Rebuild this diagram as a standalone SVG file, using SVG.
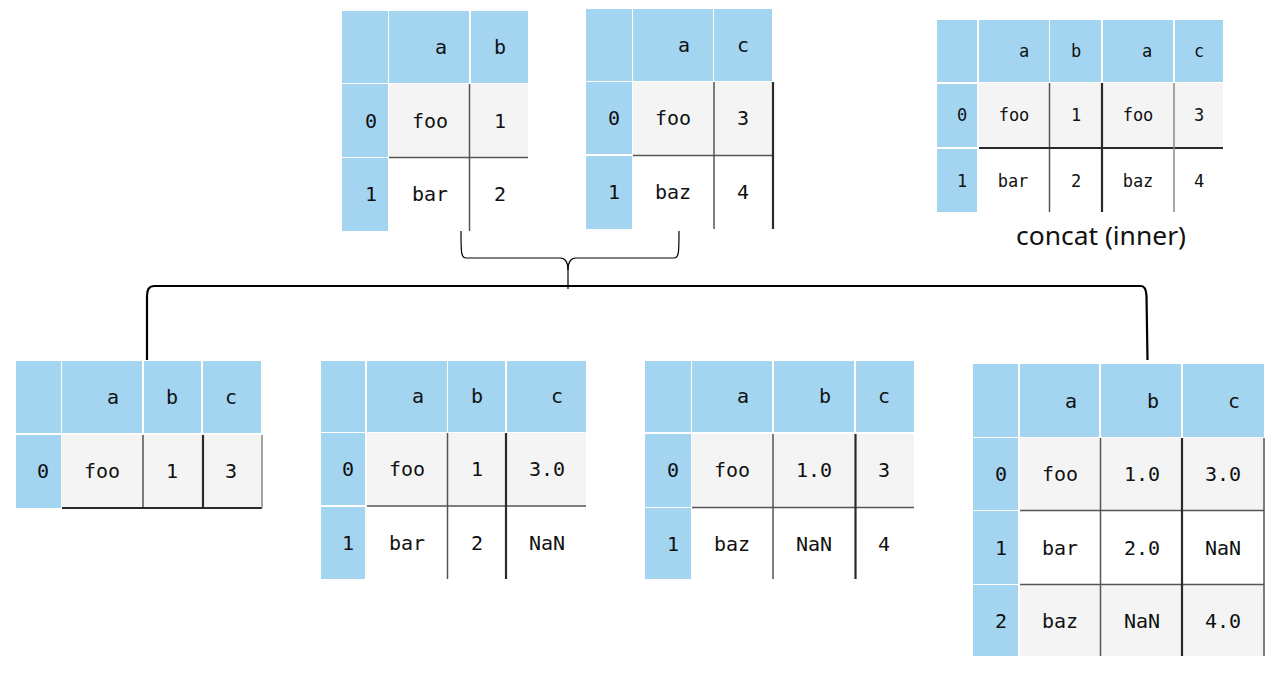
<svg xmlns="http://www.w3.org/2000/svg" width="1279" height="681" viewBox="0 0 1279 681">
<style>
.h{fill:#a3d5f1}
.g{fill:#f4f4f4}
.t{font-family:"DejaVu Sans Mono","Liberation Mono",monospace;font-size:20px;fill:#111;text-anchor:middle}
.s{font-size:17px}
.l1{stroke:#555;stroke-width:1.5;fill:none}
.l2{stroke:#2a2a2a;stroke-width:2.2;fill:none}
.l3{stroke:#888;stroke-width:1.5;fill:none}
.c{stroke:#000;fill:none}
.cap{font-family:"Noto Sans","Open Sans",sans-serif;font-size:25px;fill:#111}
</style>
<rect width="1279" height="681" fill="#fff"/>

<g id="connectors">
<path class="c" stroke-width="1.2" d="M461,231 C461,252 461,258 466,258 L560,258 C566,258 568,262 568,270 L568,289"/>
<path class="c" stroke-width="1.2" d="M679,231 C679,252 679,258 674,258 L576,258 C570,258 568,262 568,270"/>
<path class="c" stroke-width="2.2" d="M147,360 L147,296 Q147,286 154,286 L1141,286 Q1146,286 1146.5,296 L1147.5,360"/>
</g>

<g id="table1">
<rect class="h" x="342" y="11" width="46" height="72"/>
<rect class="h" x="389" y="11" width="80" height="72"/>
<rect class="h" x="471" y="11" width="57" height="72"/>
<rect class="h" x="342" y="84" width="46" height="73"/>
<rect class="h" x="342" y="158" width="46" height="73"/>
<rect class="g" x="389" y="84" width="139" height="73"/>
<path class="l1" d="M469.5,84 V231 M389,157.5 H528"/>
<text class="t" x="441" y="54">a</text>
<text class="t" x="500" y="54">b</text>
<text class="t" x="371" y="128">0</text>
<text class="t" x="430" y="128">foo</text>
<text class="t" x="500" y="128">1</text>
<text class="t" x="371" y="201">1</text>
<text class="t" x="430" y="201">bar</text>
<text class="t" x="500" y="201">2</text>
</g>

<g id="table2">
<rect class="h" x="586" y="9" width="46" height="72"/>
<rect class="h" x="633" y="9" width="80" height="72"/>
<rect class="h" x="714" y="9" width="58" height="72"/>
<rect class="h" x="586" y="82" width="46" height="72"/>
<rect class="h" x="586" y="156" width="46" height="73"/>
<rect class="g" x="633" y="82" width="140" height="73"/>
<path class="l1" d="M714,82 V229 M633,155.5 H773"/>
<path class="l2" d="M773,82 V229"/>
<text class="t" x="684" y="52">a</text>
<text class="t" x="743" y="52">c</text>
<text class="t" x="614" y="125">0</text>
<text class="t" x="673" y="125">foo</text>
<text class="t" x="743" y="125">3</text>
<text class="t" x="614" y="199">1</text>
<text class="t" x="673" y="199">baz</text>
<text class="t" x="743" y="199">4</text>
</g>

<g id="table7">
<rect class="h" x="937" y="20" width="40" height="62"/>
<rect class="h" x="979" y="20" width="70" height="62"/>
<rect class="h" x="1050" y="20" width="51" height="62"/>
<rect class="h" x="1103" y="20" width="70" height="62"/>
<rect class="h" x="1175" y="20" width="48" height="62"/>
<rect class="h" x="937" y="84" width="40" height="63"/>
<rect class="h" x="937" y="149" width="40" height="63"/>
<rect class="g" x="979" y="83" width="244" height="65"/>
<path class="l1" d="M1049.5,83 V212"/>
<path class="l2" d="M1102,83 V212 M979,148 H1223"/>
<path class="l3" d="M1174,83 V212"/>
<text class="t s" x="1024" y="57">a</text>
<text class="t s" x="1076" y="57">b</text>
<text class="t s" x="1147" y="57">a</text>
<text class="t s" x="1199" y="57">c</text>
<text class="t s" x="962" y="121">0</text>
<text class="t s" x="1014" y="121">foo</text>
<text class="t s" x="1076" y="121">1</text>
<text class="t s" x="1138" y="121">foo</text>
<text class="t s" x="1199" y="121">3</text>
<text class="t s" x="962" y="187">1</text>
<text class="t s" x="1013" y="187">bar</text>
<text class="t s" x="1076" y="187">2</text>
<text class="t s" x="1138" y="187">baz</text>
<text class="t s" x="1199" y="187">4</text>
<text class="cap" x="1016" y="245" textLength="170" lengthAdjust="spacingAndGlyphs">concat (inner)</text>
</g>

<g id="table3">
<rect class="h" x="16" y="361" width="45" height="72"/>
<rect class="h" x="62" y="361" width="80" height="72"/>
<rect class="h" x="144" y="361" width="57" height="72"/>
<rect class="h" x="203" y="361" width="58" height="72"/>
<rect class="h" x="16" y="435" width="45" height="73"/>
<rect class="g" x="62" y="435" width="200" height="73"/>
<path class="l1" d="M143,435 V508"/>
<path class="l2" d="M203,435 V508 M62,508 H262"/>
<path class="l3" d="M262,435 V508"/>
<text class="t" x="113" y="404">a</text>
<text class="t" x="172" y="404">b</text>
<text class="t" x="231" y="404">c</text>
<text class="t" x="43" y="478">0</text>
<text class="t" x="102" y="478">foo</text>
<text class="t" x="172" y="478">1</text>
<text class="t" x="231" y="478">3</text>
</g>

<g id="table4">
<rect class="h" x="321" y="361" width="44" height="71"/>
<rect class="h" x="367" y="361" width="80" height="71"/>
<rect class="h" x="448" y="361" width="57" height="71"/>
<rect class="h" x="507" y="361" width="79" height="71"/>
<rect class="h" x="321" y="433" width="44" height="72"/>
<rect class="h" x="321" y="507" width="44" height="72"/>
<rect class="g" x="367" y="433" width="219" height="73"/>
<path class="l1" d="M447.5,433 V579 M367,506 H586"/>
<path class="l2" d="M506,433 V579"/>
<text class="t" x="418" y="403">a</text>
<text class="t" x="477" y="403">b</text>
<text class="t" x="557" y="403">c</text>
<text class="t" x="348" y="476">0</text>
<text class="t" x="407" y="476">foo</text>
<text class="t" x="477" y="476">1</text>
<text class="t" x="547" y="476">3.0</text>
<text class="t" x="348" y="550">1</text>
<text class="t" x="407" y="550">bar</text>
<text class="t" x="477" y="550">2</text>
<text class="t" x="547" y="550">NaN</text>
</g>

<g id="table5">
<rect class="h" x="645" y="361" width="46" height="71"/>
<rect class="h" x="692" y="361" width="80" height="71"/>
<rect class="h" x="774" y="361" width="80" height="71"/>
<rect class="h" x="856" y="361" width="58" height="71"/>
<rect class="h" x="645" y="434" width="46" height="73"/>
<rect class="h" x="645" y="508" width="46" height="71"/>
<rect class="g" x="692" y="434" width="222" height="73"/>
<path class="l1" d="M773,434 V579 M692,507.5 H914"/>
<path class="l2" d="M855.5,434 V579"/>
<text class="t" x="743" y="403">a</text>
<text class="t" x="825" y="403">b</text>
<text class="t" x="884" y="403">c</text>
<text class="t" x="673" y="477">0</text>
<text class="t" x="732" y="477">foo</text>
<text class="t" x="814" y="477">1.0</text>
<text class="t" x="884" y="477">3</text>
<text class="t" x="673" y="551">1</text>
<text class="t" x="732" y="551">baz</text>
<text class="t" x="814" y="551">NaN</text>
<text class="t" x="884" y="551">4</text>
</g>

<g id="table6">
<rect class="h" x="973" y="364" width="45" height="73"/>
<rect class="h" x="1020" y="364" width="79" height="73"/>
<rect class="h" x="1101" y="364" width="80" height="73"/>
<rect class="h" x="1183" y="364" width="81" height="73"/>
<rect class="h" x="973" y="438" width="45" height="72"/>
<rect class="h" x="973" y="511" width="45" height="73"/>
<rect class="h" x="973" y="585" width="45" height="71"/>
<rect class="g" x="1020" y="438" width="244" height="73"/>
<rect class="g" x="1020" y="585" width="244" height="71"/>
<path class="l1" d="M1100.5,438 V656 M1020,510.5 H1264 M1020,584.5 H1264"/>
<path class="l2" d="M1182,438 V656"/>
<path class="l1" d="M1264,438 V656"/>
<text class="t" x="1071" y="408">a</text>
<text class="t" x="1153" y="408">b</text>
<text class="t" x="1234" y="408">c</text>
<text class="t" x="1001" y="481">0</text>
<text class="t" x="1060" y="481">foo</text>
<text class="t" x="1142" y="481">1.0</text>
<text class="t" x="1223" y="481">3.0</text>
<text class="t" x="1001" y="555">1</text>
<text class="t" x="1060" y="555">bar</text>
<text class="t" x="1142" y="555">2.0</text>
<text class="t" x="1223" y="555">NaN</text>
<text class="t" x="1001" y="628">2</text>
<text class="t" x="1060" y="628">baz</text>
<text class="t" x="1142" y="628">NaN</text>
<text class="t" x="1223" y="628">4.0</text>
</g>
</svg>
